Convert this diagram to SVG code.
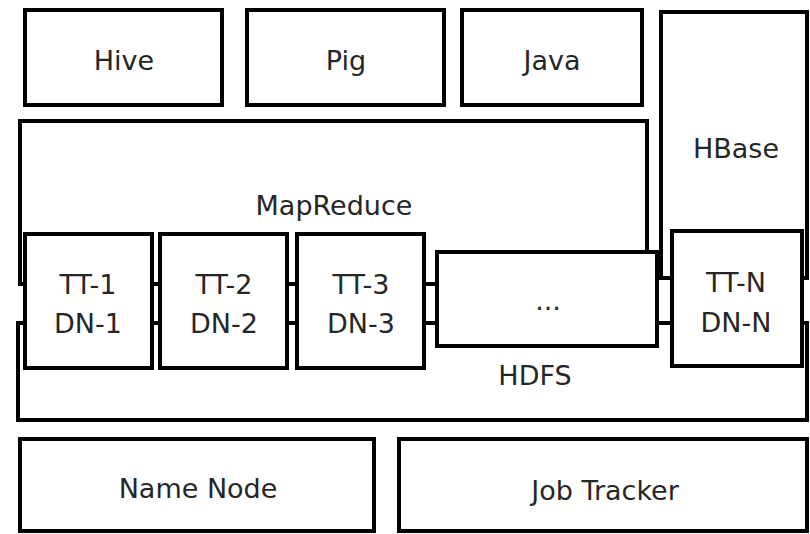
<svg xmlns="http://www.w3.org/2000/svg" width="810" height="534" viewBox="0 0 810 534">
  <style>
    .box { fill: #ffffff; stroke: #000000; stroke-width: 4; }
    .lbl { font-family: "DejaVu Sans", Verdana, sans-serif; font-size: 27px; fill: #262626; text-anchor: middle; }
  </style>
  <rect width="810" height="534" fill="#ffffff"/>

  <!-- application layer -->
  <g id="hive">
    <rect class="box" x="25" y="10" width="197" height="95"/>
    <text class="lbl" x="124" y="70">Hive</text>
  </g>
  <g id="pig">
    <rect class="box" x="247" y="10" width="197" height="95"/>
    <text class="lbl" x="346" y="70">Pig</text>
  </g>
  <g id="java">
    <rect class="box" x="462" y="10" width="180" height="95"/>
    <text class="lbl" x="552" y="70">Java</text>
  </g>

  <!-- frameworks spanning the worker nodes -->
  <g id="mapreduce">
    <rect class="box" x="20" y="121" width="627" height="163"/>
    <text class="lbl" x="334" y="215">MapReduce</text>
  </g>
  <g id="hbase">
    <rect class="box" x="661" y="12" width="146" height="266"/>
    <text class="lbl" x="736" y="158">HBase</text>
  </g>
  <g id="hdfs">
    <rect class="box" x="18" y="323" width="789" height="97"/>
    <text class="lbl" x="535" y="385">HDFS</text>
  </g>

  <!-- worker nodes -->
  <g id="node-1">
    <rect class="box" x="25" y="234" width="127" height="134"/>
    <text class="lbl" x="88" y="294">TT-1</text>
    <text class="lbl" x="88" y="333">DN-1</text>
  </g>
  <g id="node-2">
    <rect class="box" x="160" y="234" width="127" height="134"/>
    <text class="lbl" x="224" y="294">TT-2</text>
    <text class="lbl" x="224" y="333">DN-2</text>
  </g>
  <g id="node-3">
    <rect class="box" x="297" y="234" width="127" height="134"/>
    <text class="lbl" x="361" y="294">TT-3</text>
    <text class="lbl" x="361" y="333">DN-3</text>
  </g>
  <g id="node-more">
    <rect class="box" x="437" y="252" width="220" height="94"/>
    <text class="lbl" x="548" y="310">...</text>
  </g>
  <g id="node-n">
    <rect class="box" x="672" y="231" width="130" height="135"/>
    <text class="lbl" x="736" y="292">TT-N</text>
    <text class="lbl" x="736" y="332">DN-N</text>
  </g>

  <!-- master services -->
  <g id="name-node">
    <rect class="box" x="20" y="439" width="354" height="92"/>
    <text class="lbl" x="198" y="498">Name Node</text>
  </g>
  <g id="job-tracker">
    <rect class="box" x="399" y="439" width="408" height="92"/>
    <text class="lbl" x="605" y="500">Job Tracker</text>
  </g>

  <g id="connectors"></g>
</svg>
